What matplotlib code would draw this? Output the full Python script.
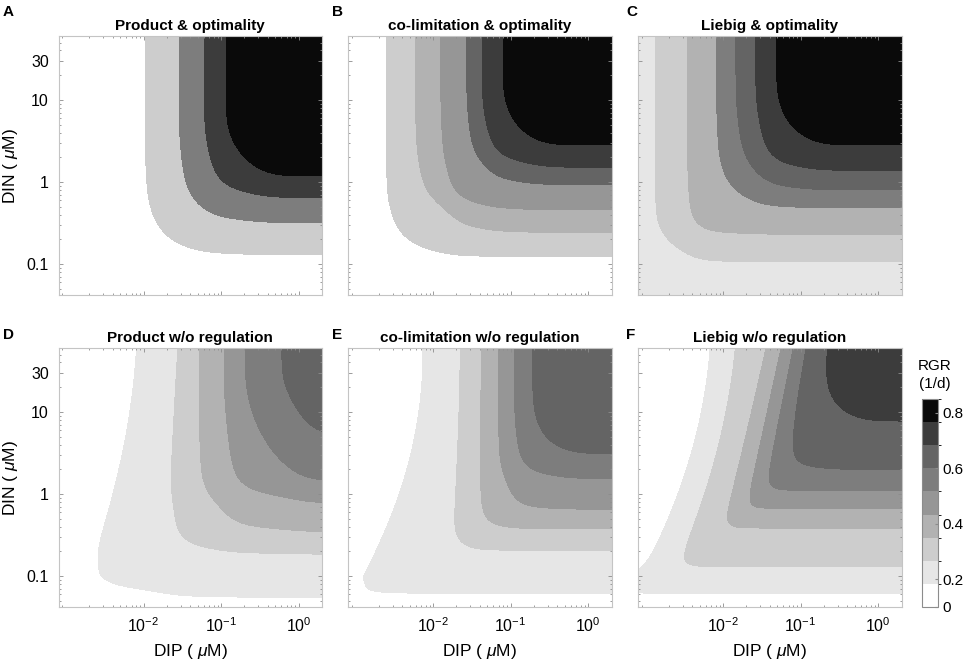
import numpy as np
import matplotlib
matplotlib.use("Agg")
import matplotlib.pyplot as plt
from matplotlib.colors import ListedColormap, BoundaryNorm
from matplotlib.cm import ScalarMappable
from matplotlib.ticker import LogLocator, NullFormatter

plt.rcParams['font.family'] = ['Liberation Sans', 'DejaVu Sans']
plt.rcParams['mathtext.fontset'] = 'custom'
plt.rcParams['mathtext.rm'] = 'Liberation Sans'
plt.rcParams['mathtext.it'] = 'Liberation Sans:italic'

## colour classes of the RGR colorbar (1/d)
levels = [0.0, 0.1833, 0.2667, 0.35, 0.4333, 0.5167, 0.6, 0.6833, 0.7667, 0.85]
greys = ['#ffffff', '#e6e6e6', '#cdcdcd', '#b2b2b2', '#969696',
         '#7d7d7d', '#646464', '#3c3c3c', '#0a0a0a']
cbar_ticks = [0, 0.2, 0.4, 0.6, 0.8]

titles = ['Product & optimality', 'co-limitation & optimality', 'Liebig & optimality',
          'Product w/o regulation', 'co-limitation w/o regulation', 'Liebig w/o regulation']
letters = ['A', 'B', 'C', 'D', 'E', 'F']

## contour edges (uM)
## dip_*: DIP where a class edge is crossed at DIN = top / 1 / 0.1
## din_*: DIN where a class edge is crossed at the right border
bands_A = [2, 5, 7, 8]
dip_A = [0.010, 0.029, 0.059, 0.11]
din_A = [0.126, 0.32, 0.63, 1.12]

bands_B = [2, 3, 4, 6, 7, 8]
dip_B = [0.0022, 0.006, 0.0135, 0.026, 0.043, 0.074]
din_B = [0.112, 0.245, 0.49, 0.87, 1.55, 2.63]

bands_C = [1, 2, 3, 5, 6, 7, 8]
dip_C = [0.00016, 0.00138, 0.0037, 0.0078, 0.0148, 0.027, 0.045]
din_C = [0.01, 0.112, 0.245, 0.46, 0.81, 1.38, 2.7]

bands_D = [1, 2, 3, 4, 5, 6]
dip_D_top = [0.0072, 0.030, 0.051, 0.117, 0.195, 0.62]
dip_D_1 = [0.0035, 0.022, 0.045, 0.10, 0.18, 0.60]
dip_D_01 = [0.00155, 0.018, 0.040, 0.09, 0.17, 0.58]
din_D = [0.052, 0.20, 0.33, 0.83, 1.38, 5.6]

bands_E = [1, 2, 3, 4, 5, 6]
dip_E_top = [0.0066, 0.024, 0.042, 0.071, 0.115, 0.174]
dip_E_1 = [0.0032, 0.021, 0.039, 0.068, 0.11, 0.17]
dip_E_01 = [0.00107, 0.018, 0.036, 0.065, 0.105, 0.165]
din_E = [0.056, 0.22, 0.38, 0.62, 1.62, 2.9]

bands_F = [1, 2, 3, 4, 5, 6, 7]
dip_F_top = [0.0063, 0.0141, 0.039, 0.056, 0.081, 0.112, 0.21]
dip_F_1 = [0.0024, 0.0058, 0.0135, 0.022, 0.034, 0.051, 0.151]
dip_F_01 = [0.00079, 0.0022, 0.0074, 0.0129, 0.021, 0.033, 0.123]
din_F = [0.058, 0.126, 0.41, 0.66, 1.10, 1.86, 7.8]

## how N and P limitation combine for the lowest / highest class
## (small ~ product, large ~ Liebig minimum)
p_low = [0.6, 3.0, 6.0, 4.0, 10.0, 15.0]
p_high = [0.35, 1.0, 2.0, 1.5, 2.5, 12.0]
floors = [0, 0, 0.22, 0, 0, 0]

x_lim = (8e-4, 2.0)
y_lim = (0.042, 60.0)
lx = np.linspace(np.log10(x_lim[0]), np.log10(x_lim[1]), 500)
ly = np.linspace(np.log10(y_lim[0]), np.log10(y_lim[1]), 500)


def pchip(xp, yp, x):
    # monotone cubic, flat at both ends
    xp = np.asarray(xp, float)
    yp = np.asarray(yp, float)
    h = np.diff(xp)
    d = np.diff(yp) / h
    m = np.zeros_like(yp)
    for i in range(1, len(xp) - 1):
        if d[i - 1] * d[i] > 0:
            w1 = 2 * h[i] + h[i - 1]
            w2 = h[i] + 2 * h[i - 1]
            m[i] = (w1 + w2) / (w1 / d[i - 1] + w2 / d[i])
    j = np.clip(np.searchsorted(xp, x) - 1, 0, len(xp) - 2)
    t = np.clip((x - xp[j]) / h[j], 0, 1)
    h00 = 2 * t ** 3 - 3 * t ** 2 + 1
    h10 = t ** 3 - 2 * t ** 2 + t
    h01 = -2 * t ** 3 + 3 * t ** 2
    h11 = t ** 3 - t ** 2
    return h00 * yp[j] + h10 * h[j] * m[j] + h01 * yp[j + 1] + h11 * h[j] * m[j + 1]


kern = np.exp(-0.5 * (np.arange(-54, 55) / 18.0) ** 2)
kern /= kern.sum()


def smooth(g):
    gp = np.r_[np.full(54, g[0]), g, np.full(54, g[-1])]
    return np.convolve(gp, kern, mode='valid')


def profile(edges, lev, rmax, x):
    sat = min(edges[-1] + 0.8, x[-1])
    sat = max(sat, edges[-1] + 0.3)
    xp = np.r_[edges[0] - 0.35, edges, sat]
    yp = np.r_[0, lev, rmax]
    return smooth(pchip(xp, yp, x))


def rgr_layers(bands, dip_top, dip_1, dip_01, din, p0, p1, floor):
    lev = [levels[b] for b in bands]
    rmax = lev[-1] + 0.07
    rows = np.log10([0.1, 1.0, y_lim[1]])
    e = np.log10([dip_01, dip_1, dip_top])
    coef = [np.polyfit(rows, e[:, k], 2) for k in range(len(bands))]
    fy = np.clip(profile(np.log10(din), lev, rmax, ly) / rmax, 1e-4, 1)
    FX = np.zeros((len(ly), len(lx)))
    for i, yy in enumerate(ly):
        yc = max(yy, rows[0])
        ek = np.array([np.polyval(cf, yc) for cf in coef])
        FX[i] = np.clip(profile(ek, lev, rmax, lx) / rmax, 1e-4, 1)
    FY = fy[:, None] * np.ones_like(FX)
    n = len(bands)
    out = []
    for k in range(n):
        w = k / (n - 1)
        p = p0 ** (1 - w) * p1 ** w
        Z = rmax * (FX ** -p + FY ** -p - 1) ** (-1 / p)
        out.append((lev[k], np.maximum(Z, floor)))
    return out


panels = [
    (bands_A, dip_A, dip_A, dip_A, din_A),
    (bands_B, dip_B, dip_B, dip_B, din_B),
    (bands_C, dip_C, dip_C, dip_C, din_C),
    (bands_D, dip_D_top, dip_D_1, dip_D_01, din_D),
    (bands_E, dip_E_top, dip_E_1, dip_E_01, din_E),
    (bands_F, dip_F_top, dip_F_1, dip_F_01, din_F),
]

W, H = 964, 662
fig = plt.figure(figsize=(W / 100, H / 100), dpi=100)

lefts = [58.5, 348, 638]
tops = [36, 348]
aw, ah = 263.5, 259

for k, (bands, dtop, d1, d01, din) in enumerate(panels):
    r, c = divmod(k, 3)
    ax = fig.add_axes([lefts[c] / W, 1 - (tops[r] + ah) / H, aw / W, ah / H])
    layers = rgr_layers(bands, dtop, d1, d01, din, p_low[k], p_high[k], floors[k])
    for b, (lv, Z) in zip(bands, layers):
        ax.contourf(10 ** lx, 10 ** ly, Z, levels=[lv, 10.0], colors=[greys[b]])
    ax.set_xscale('log')
    ax.set_yscale('log')
    ax.set_xlim(x_lim)
    ax.set_ylim(y_lim)
    ax.set_xticks([1e-2, 1e-1, 1])
    ax.set_xticklabels([r'$10^{-2}$', r'$10^{-1}$', r'$10^{0}$'])
    ax.set_yticks([0.1, 1, 10, 30])
    ax.set_yticklabels(['0.1', '1', '10', '30'])
    ax.xaxis.set_minor_locator(LogLocator(base=10, subs=np.arange(2, 10)))
    ax.yaxis.set_minor_locator(LogLocator(base=10, subs=np.arange(2, 10)))
    ax.xaxis.set_minor_formatter(NullFormatter())
    ax.yaxis.set_minor_formatter(NullFormatter())
    ax.tick_params(which='both', direction='in', top=True, right=True,
                   color='#8c8c8c', width=0.6, labelsize=11.5, pad=7)
    ax.tick_params(which='major', length=3)
    ax.tick_params(which='minor', length=1.5)
    ax.tick_params(labelbottom=(r == 1), labelleft=(c == 0))
    for s in ax.spines.values():
        s.set_color('#c4c4c4')
        s.set_linewidth(0.8)
        s.set_zorder(3)
    ax.set_title(titles[k], fontweight='bold', fontsize=11, pad=4)
    if c == 0:
        ax.set_ylabel(r'DIN ( $\mu$M)', fontsize=12.5)
        ax.yaxis.set_label_coords(-0.145, 0.5)
    if r == 1:
        ax.set_xlabel(r'DIP ( $\mu$M)', fontsize=12.5)
        ax.xaxis.set_label_coords(0.5, -0.135)

letter_x = [3, 332, 626]
letter_y = [12, 335]
for k, t in enumerate(letters):
    r, c = divmod(k, 3)
    fig.text(letter_x[c] / W, 1 - letter_y[r] / H, t, fontweight='bold',
             fontsize=11, va='center', ha='left')

## colorbar
cax = fig.add_axes([922 / W, 55 / H, 16 / W, 208 / H])
cmap = ListedColormap(greys)
norm = BoundaryNorm(levels, cmap.N)
cb = fig.colorbar(ScalarMappable(norm=norm, cmap=cmap), cax=cax,
                  spacing='uniform', ticks=cbar_ticks)
cb.ax.set_yticklabels(['0', '0.2', '0.4', '0.6', '0.8'])
cb.ax.tick_params(labelsize=11, length=2, direction='in', color='#8c8c8c')
cb.outline.set_edgecolor('#8c8c8c')
cb.outline.set_linewidth(0.8)
fig.text(935 / W, 1 - 375 / H, 'RGR\n(1/d)', ha='center', va='center',
         fontsize=11, linespacing=1.4)

fig.savefig('out.png', dpi=100)
